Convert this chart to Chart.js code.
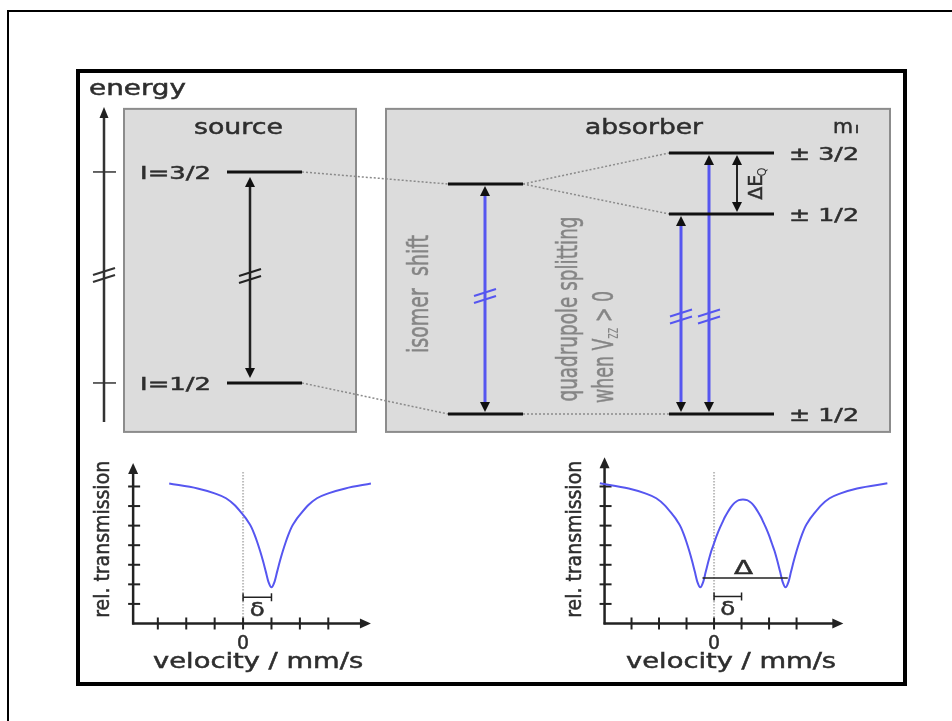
<!DOCTYPE html>
<html>
<head>
<meta charset="utf-8">
<script src="https://cdn.jsdelivr.net/npm/chart.js@4.4.1/dist/chart.umd.min.js"></script>
<style>
  body { margin: 0; background: #fff; width: 952px; height: 721px; overflow: hidden; position: relative; }
  #page { position: absolute; left: 7px; top: 10px; width: 1000px; height: 800px; border-left: 2px solid #000; border-top: 2px solid #000; }
  #frame { position: absolute; left: 76px; top: 69px; width: 823px; height: 609px; border: 4px solid #000; }
  canvas { position: absolute; }
</style>
</head>
<body>
<div id="page"></div>
<div id="frame"></div>
<canvas id="levels" width="824" height="372" style="left:80px;top:73px"></canvas>
<canvas id="specLeft" width="300" height="237" style="left:80px;top:445px"></canvas>
<canvas id="specRight" width="340" height="237" style="left:560px;top:445px"></canvas>
<script>
// energies (arbitrary units, source ground state = 0)
const sourceLevelE = [100, 0];
const sourceLevelLabels = ['I=3/2', 'I=1/2'];
const shiftedLevelE = [94.3, -14.7];
const splitLevelE = [109, 80.1, -14.7];
const splitLevelLabels = ['± 3/2', '± 1/2', '± 1/2'];
const energyAxisTicks = [100, 0];

// spectra (velocity in mm/s, transmission in tick units)
const velocityTicks = [-3, -2, -1, 0, 1, 2, 3];
const transmissionTicks = [1, 2, 3, 4, 5, 6, 7];
const leftVelocity = [-2.6, -1.6, -1, -0.6, -0.3, 0, 0.1, 0.2, 0.3, 0.4, 0.5, 0.6, 0.7, 0.8, 0.9, 1,
  1.1, 1.2, 1.3, 1.4, 1.5, 1.6, 1.7, 1.8, 1.9, 2, 2.3, 2.6, 3, 3.6, 4.5];
const leftTransmission = [7.15, 6.9, 6.65, 6.4, 6.05, 5.55, 5.37, 5.15, 4.9, 4.55, 4.15, 3.7, 3.2, 2.65, 2.1, 1.85,
  2.1, 2.65, 3.2, 3.7, 4.15, 4.55, 4.9, 5.15, 5.37, 5.55, 6.05, 6.4, 6.65, 6.9, 7.15];
const rightVelocity = [-4.15, -3.1, -2.5, -2.1, -1.8, -1.5, -1.4, -1.3, -1.2, -1.1, -1, -0.9, -0.8, -0.7, -0.6, -0.5,
  -0.4, -0.3, -0.2, -0.1, 0, 0.1, 0.2, 0.3, 0.4, 0.5, 0.6, 0.7, 0.8, 0.9, 1.05,
  1.2, 1.3, 1.4, 1.5, 1.6, 1.7, 1.8, 1.9, 2, 2.1, 2.2, 2.3, 2.4, 2.5, 2.6,
  2.7, 2.8, 2.9, 3, 3.1, 3.2, 3.3, 3.4, 3.5, 3.6, 3.9, 4.2, 4.6, 5.2, 6.3];
const rightTransmission = [7.16, 6.9, 6.65, 6.4, 6.05, 5.55, 5.37, 5.15, 4.9, 4.55, 4.15, 3.7, 3.2, 2.65, 2.1, 1.85,
  2.1, 2.65, 3.2, 3.7, 4.1, 4.5, 4.85, 5.15, 5.45, 5.7, 5.92, 6.1, 6.22, 6.3, 6.34,
  6.3, 6.22, 6.1, 5.92, 5.7, 5.45, 5.15, 4.85, 4.5, 4.1, 3.7, 3.2, 2.65, 2.1, 1.85,
  2.1, 2.65, 3.2, 3.7, 4.15, 4.55, 4.9, 5.15, 5.37, 5.55, 6.05, 6.4, 6.65, 6.9, 7.16];
const isomerShift = 1;
const quadDips = [-0.42, 2.68];

const BLUE = '#5656f0';
const INK = '#222';
const TEXT = '#2e2e2e';

// layout of the level scheme (x in diagram pixels)
const col = { source: [227, 302], shift: [448, 523], split: [669, 774] };
const boxE = [129.9, -23.2];
const boxes = [[124, 356], [386, 890]];
const energyAxis = { x: 104, from: -18.5, to: 130.8, brk: 51.2 };
const topRange = { xMin: 80, xMax: 904, yMin: -29.4, yMax: 146.9, h: 372 };
const ePerPx = (topRange.yMax - topRange.yMin) / topRange.h;

const transitions = [
  { x: 250, lo: sourceLevelE[1], hi: sourceLevelE[0], color: INK, width: 2.5, gap: 5, brk: 51.2 },
  { x: 485, lo: shiftedLevelE[1], hi: shiftedLevelE[0], color: BLUE, width: 3, gap: 2, brk: 41.7 },
  { x: 681, lo: splitLevelE[2], hi: splitLevelE[1], color: BLUE, width: 3, gap: 2, brk: 32 },
  { x: 709, lo: splitLevelE[2], hi: splitLevelE[0], color: BLUE, width: 3, gap: 2, brk: 32 },
  { x: 737, lo: splitLevelE[1], hi: splitLevelE[0], color: INK, width: 2, gap: 2, brk: null }
];
const HEAD_LEN = 10, HEAD_W = 10;

function seg(ctx, x1, y1, x2, y2) {
  ctx.beginPath(); ctx.moveTo(x1, y1); ctx.lineTo(x2, y2); ctx.stroke();
}
function head(ctx, x, y, dir, len, w, color) {
  // dir: -1 = pointing up, 1 = pointing down, 2 = pointing right
  ctx.fillStyle = color;
  ctx.beginPath();
  if (dir === 2) {
    ctx.moveTo(x, y); ctx.lineTo(x - len, y - w / 2); ctx.lineTo(x - len, y + w / 2);
  } else {
    ctx.moveTo(x, y); ctx.lineTo(x - w / 2, y - dir * len); ctx.lineTo(x + w / 2, y - dir * len);
  }
  ctx.closePath(); ctx.fill();
}
function breakMark(ctx, x, y, half, color, lw) {
  ctx.strokeStyle = color; ctx.lineWidth = lw;
  seg(ctx, x - half, y - 1, x + half, y - 8);
  seg(ctx, x - half, y + 6, x + half, y - 1);
}
function label(ctx, s, x, y, o) {
  ctx.save();
  ctx.translate(x, y);
  if (o.rot) ctx.rotate(o.rot);
  ctx.font = o.size + 'px "DejaVu Sans"';
  const w = ctx.measureText(s).width;
  ctx.scale(o.w ? o.w / w : 1, 1);
  ctx.textAlign = o.align || 'center';
  ctx.textBaseline = 'alphabetic';
  ctx.fillStyle = o.color || TEXT;
  ctx.strokeStyle = o.color || TEXT;
  ctx.lineWidth = 0.5;
  ctx.fillText(s, 0, 0);
  ctx.strokeText(s, 0, 0);
  ctx.restore();
}

function lineSet(points, color, width, dash) {
  return {
    data: points, borderColor: color, borderWidth: width, borderDash: dash || [],
    pointRadius: 0, fill: false, tension: 0, borderCapStyle: 'butt'
  };
}

const datasets = [];
sourceLevelE.forEach(e => datasets.push(lineSet([{ x: col.source[0], y: e }, { x: col.source[1], y: e }], '#111', 3)));
shiftedLevelE.forEach(e => datasets.push(lineSet([{ x: col.shift[0], y: e }, { x: col.shift[1], y: e }], '#111', 3)));
splitLevelE.forEach(e => datasets.push(lineSet([{ x: col.split[0], y: e }, { x: col.split[1], y: e }], '#111', 3)));
// dotted connections
const dotted = [
  [col.source[1], sourceLevelE[0], col.shift[0], shiftedLevelE[0]],
  [col.source[1], sourceLevelE[1], col.shift[0], shiftedLevelE[1]],
  [col.shift[1], shiftedLevelE[0], col.split[0], splitLevelE[0]],
  [col.shift[1], shiftedLevelE[0], col.split[0], splitLevelE[1]],
  [col.shift[1], shiftedLevelE[1], col.split[0], splitLevelE[2]]
];
dotted.forEach(d => datasets.push(lineSet([{ x: d[0], y: d[1] }, { x: d[2], y: d[3] }], '#8a8a8a', 1.5, [2, 2])));
// transition shafts (ending at arrow-head bases)
transitions.forEach(t => {
  const off = (t.gap + HEAD_LEN - 1) * ePerPx;
  datasets.push(lineSet([{ x: t.x, y: t.lo + off }, { x: t.x, y: t.hi - off }], t.color, t.width));
});

const levelPlugin = {
  id: 'levelScheme',
  beforeDatasetsDraw(chart) {
    const ctx = chart.ctx, X = v => chart.scales.x.getPixelForValue(v), Y = v => chart.scales.y.getPixelForValue(v);
    ctx.save();
    // boxes
    boxes.forEach(b => {
      ctx.fillStyle = '#dcdcdc';
      ctx.fillRect(X(b[0]), Y(boxE[0]), X(b[1]) - X(b[0]), Y(boxE[1]) - Y(boxE[0]));
      ctx.strokeStyle = '#8c8c8c'; ctx.lineWidth = 2;
      ctx.strokeRect(X(b[0]), Y(boxE[0]), X(b[1]) - X(b[0]), Y(boxE[1]) - Y(boxE[0]));
    });
    // energy axis
    ctx.strokeStyle = '#333'; ctx.lineWidth = 2.5;
    seg(ctx, X(energyAxis.x), Y(energyAxis.from), X(energyAxis.x), Y(energyAxis.to) + 8);
    head(ctx, X(energyAxis.x), Y(energyAxis.to), -1, 11, 9, '#222');
    ctx.lineWidth = 1.5;
    energyAxisTicks.forEach(e => seg(ctx, X(energyAxis.x) - 11, Y(e), X(energyAxis.x) + 12, Y(e)));
    breakMark(ctx, X(energyAxis.x), Y(energyAxis.brk) + 1, 11, '#333', 2);

    // texts
    const boxTopPx = Y(boxE[0]);
    label(ctx, 'energy', 137.5 - 80, boxTopPx - 14, { size: 21, w: 97 });
    label(ctx, 'source', 238.5 - 80, boxTopPx + 25, { size: 22, w: 89 });
    label(ctx, 'absorber', 644 - 80, boxTopPx + 25, { size: 22, w: 118 });
    label(ctx, 'm', 843 - 80, boxTopPx + 24, { size: 19, w: 20 });
    label(ctx, 'I', 857 - 80, boxTopPx + 24, { size: 10, w: 4 });
    sourceLevelLabels.forEach((s, i) =>
      label(ctx, s, X(col.source[0]) - 16, Y(sourceLevelE[i]) + 7, { size: 18, w: 71, align: 'right' }));
    splitLevelLabels.forEach((s, i) =>
      label(ctx, s, X(col.split[1]) + 15, Y(splitLevelE[i]) + 7, { size: 18, w: 70, align: 'left' }));
    // rotated notes
    const up = -Math.PI / 2;
    const GREY = '#858585';
    label(ctx, 'isomer  shift', 428 - 80, Y(41.7) - 1, { size: 29, w: 118, rot: up, color: GREY });
    label(ctx, 'quadrupole splitting', 577 - 80, Y(-14.7) - 13 - 92, { size: 28, w: 185, rot: up, color: GREY });
    // "when Vzz > 0"
    ctx.save();
    ctx.translate(613 - 80, Y(-14.7) - 11);
    ctx.rotate(up);
    ctx.fillStyle = GREY; ctx.strokeStyle = GREY; ctx.lineWidth = 0.5;
    ctx.font = '28px "DejaVu Sans"';
    ctx.textBaseline = 'alphabetic';
    ctx.scale(0.62, 1);
    let cx = 0;
    ctx.fillText('when V', cx, 0); ctx.strokeText('when V', cx, 0); cx += ctx.measureText('when V').width;
    ctx.font = '17px "DejaVu Sans"';
    ctx.fillText('zz', cx, 5); cx += ctx.measureText('zz').width;
    ctx.font = '28px "DejaVu Sans"';
    ctx.fillText(' > 0', cx, 0); ctx.strokeText(' > 0', cx, 0);
    ctx.restore();
    // ΔEQ
    ctx.save();
    ctx.translate(762 - 80, Y(94.5));
    ctx.rotate(up);
    ctx.fillStyle = TEXT; ctx.strokeStyle = TEXT; ctx.lineWidth = 0.5;
    ctx.font = '20px "DejaVu Sans"';
    ctx.textAlign = 'left';
    ctx.scale(0.95, 1);
    ctx.fillText('ΔE', -17, 0); ctx.strokeText('ΔE', -17, 0);
    ctx.font = '12px "DejaVu Sans"';
    ctx.fillText('Q', -17 + ctx.measureText('ΔE').width * 1.55, 4);
    ctx.restore();
    ctx.restore();
  },
  afterDatasetsDraw(chart) {
    const ctx = chart.ctx, X = v => chart.scales.x.getPixelForValue(v), Y = v => chart.scales.y.getPixelForValue(v);
    ctx.save();
    transitions.forEach(t => {
      head(ctx, X(t.x), Y(t.hi) + t.gap, -1, HEAD_LEN, HEAD_W, '#111');
      head(ctx, X(t.x), Y(t.lo) - t.gap, 1, HEAD_LEN, HEAD_W, '#111');
      if (t.brk !== null) breakMark(ctx, X(t.x), Y(t.brk) + 2, 11, t.color, 2);
    });
    ctx.restore();
  }
};

new Chart(document.getElementById('levels'), {
  type: 'line',
  data: { datasets: datasets },
  options: {
    responsive: false, animation: false, events: [],
    layout: { padding: 0 },
    plugins: { legend: { display: false }, tooltip: { enabled: false } },
    scales: {
      x: { type: 'linear', display: false, min: topRange.xMin, max: topRange.xMax },
      y: { type: 'linear', display: false, min: topRange.yMin, max: topRange.yMax }
    }
  },
  plugins: [levelPlugin]
});

const spectrumPlugin = {
  id: 'spectrum',
  beforeDatasetsDraw(chart, args, o) {
    const ctx = chart.ctx, X = v => chart.scales.x.getPixelForValue(v), Y = v => chart.scales.y.getPixelForValue(v);
    ctx.save();
    // zero-velocity guide
    ctx.strokeStyle = '#bdbdbd'; ctx.lineWidth = 2; ctx.setLineDash([1.5, 1.5]);
    seg(ctx, X(0), Y(0), X(0), Y(o.zeroTop));
    ctx.setLineDash([]);
    // axes
    ctx.strokeStyle = INK; ctx.lineWidth = 2.5;
    seg(ctx, X(o.axisV), Y(0) + 1, X(o.axisV), Y(o.axisTop) + 9);
    seg(ctx, X(o.axisV) - 1, Y(0), X(o.axisEnd) - 9, Y(0));
    head(ctx, X(o.axisV), Y(o.axisTop), -1, 11, 10, INK);
    head(ctx, X(o.axisEnd), Y(0), 2, 11, 10, INK);
    ctx.lineWidth = 2;
    transmissionTicks.forEach(t => seg(ctx, X(o.axisV) - 5, Y(t), X(o.axisV) + 7, Y(t)));
    velocityTicks.forEach(v => seg(ctx, X(v), Y(0) - 6, X(v), Y(0) + 6));
    ctx.restore();
  },
  afterDatasetsDraw(chart, args, o) {
    const ctx = chart.ctx, X = v => chart.scales.x.getPixelForValue(v), Y = v => chart.scales.y.getPixelForValue(v);
    ctx.save();
    ctx.strokeStyle = INK; ctx.lineWidth = 1.5;
    // delta bracket
    const by = Y(o.deltaT);
    seg(ctx, X(0), by, X(isomerShift), by);
    seg(ctx, X(0), by - 4, X(0), by + 4);
    seg(ctx, X(isomerShift), by - 4, X(isomerShift), by + 4);
    label(ctx, 'δ', X(isomerShift / 2), by + 19, { size: 20, w: 15 });
    if (o.split) {
      const sy = Y(o.splitT);
      ctx.strokeStyle = INK; ctx.lineWidth = 1.5;
      seg(ctx, X(quadDips[0]), sy, X(quadDips[1]), sy);
      label(ctx, 'Δ', X(isomerShift) + 2, sy - 4, { size: 19, w: 19 });
    }
    label(ctx, '0', X(0), Y(0) + 26, { size: 19, w: 12 });
    label(ctx, 'velocity / mm/s', X(o.labelV), Y(0) + 45, { size: 21, w: 210 });
    label(ctx, 'rel. transmission', X(o.axisV) - 24, Y(4.3), { size: 21, w: 157, rot: -Math.PI / 2 });
    ctx.restore();
  }
};

function spectrum(id, vel, trans, vMin, vMax, opts) {
  new Chart(document.getElementById(id), {
    type: 'line',
    data: {
      datasets: [{
        data: vel.map((v, i) => ({ x: v, y: trans[i] })),
        borderColor: BLUE, borderWidth: 2, pointRadius: 0, fill: false,
        cubicInterpolationMode: 'monotone'
      }]
    },
    options: {
      responsive: false, animation: false, events: [],
      layout: { padding: 0 },
      plugins: { legend: { display: false }, tooltip: { enabled: false }, spectrum: opts },
      scales: {
        x: { type: 'linear', display: false, min: vMin, max: vMax },
        y: { type: 'linear', display: false, min: -2.99, max: 9.12 }
      }
    },
    plugins: [spectrumPlugin]
  });
}

spectrum('specLeft', leftVelocity, leftTransmission, -5.74, 4.82,
  { axisV: -3.87, axisTop: 8.2, axisEnd: 4.5, zeroTop: 7.8, deltaT: 1.34, labelV: 0.53, split: false });
spectrum('specRight', rightVelocity, rightTransmission, -5.6, 6.76,
  { axisV: -3.98, axisTop: 8.5, axisEnd: 4.7, zeroTop: 7.8, deltaT: 1.38, splitT: 2.32, labelV: 0.62, split: true });
</script>
</body>
</html>
